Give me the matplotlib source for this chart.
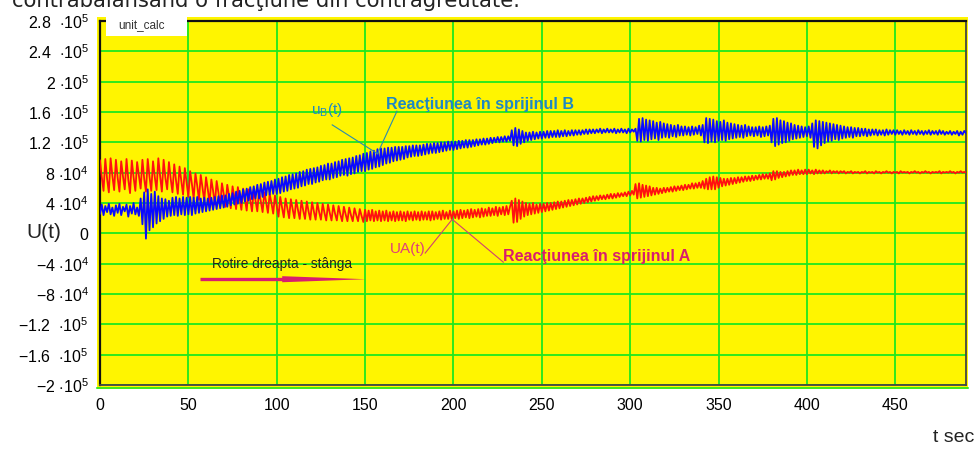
import matplotlib
matplotlib.use("Agg")
import matplotlib.pyplot as plt
from matplotlib.patches import Rectangle
import numpy as np

# ---------------------------------------------------------------- data
T_START, T_STEP = 0.0, 1.0          # sampling of both reaction traces [s]
UNIT = 1e4                          # values below are stored in units of 1e4

# Reaction in support A, UA(t)
ua = [
    9.6, 7.4, 5.6, 9.8, 7.2, 5.4, 9.9, 7.6, 5.7, 9.7,
    7.3, 5.5, 9.5, 7.5, 5.8, 9.8, 7.1, 5.3, 9.6, 7.4,
    5.6, 9.4, 7.6, 5.9, 9.7, 7.2, 5.5, 9.8, 7.5, 5.6,
    9.5, 7.4, 5.7, 9.9, 7.6, 5.5, 9.7, 7.3, 5.8, 9.4,
    7.2, 5.4, 9.1, 7.0, 5.2, 8.8, 6.9, 5.1, 8.6, 6.7,
    4.8, 8.2, 6.5, 4.6, 7.9, 6.3, 4.4, 7.7, 6.0, 4.3,
    7.4, 5.8, 4.0, 7.1, 5.6, 3.8, 6.9, 5.4, 3.6, 6.6,
    5.2, 3.5, 6.4, 5.0, 3.3, 6.2, 4.8, 3.2, 6.1, 4.6,
    3.1, 5.9, 4.5, 3.0, 5.8, 4.4, 2.9, 5.8, 4.3, 2.9,
    5.6, 4.2, 2.8, 5.4, 4.1, 2.7, 5.2, 4.0, 2.6, 5.0,
    3.6, 2.2, 4.8, 3.4, 2.1, 4.6, 3.3, 2.0, 4.5, 3.2,
    2.0, 4.4, 3.1, 1.9, 4.3, 3.0, 1.9, 4.2, 2.9, 1.8,
    4.1, 2.9, 1.8, 4.0, 2.8, 1.8, 3.9, 2.7, 1.7, 3.8,
    2.7, 1.7, 3.7, 2.6, 1.7, 3.6, 2.5, 1.6, 3.5, 2.5,
    1.6, 3.4, 2.4, 1.6, 3.3, 2.4, 1.6, 3.2, 2.3, 1.5,
    3.1, 1.6, 3.0, 1.7, 3.1, 1.6, 2.9, 1.7, 3.0, 1.6,
    2.9, 1.7, 3.0, 1.6, 2.8, 1.7, 2.9, 1.6, 2.8, 1.7,
    2.9, 1.7, 2.8, 1.6, 2.9, 1.8, 2.8, 1.7, 2.9, 1.8,
    2.8, 1.7, 2.9, 1.8, 2.8, 1.8, 2.9, 1.7, 2.9, 1.8,
    2.8, 1.9, 2.9, 1.8, 3.0, 1.9, 2.8, 1.9, 3.0, 1.9,
    2.9, 2.0, 3.0, 1.9, 3.1, 2.0, 3.0, 2.1, 3.1, 2.0,
    3.2, 2.1, 3.1, 2.2, 3.2, 2.1, 3.3, 2.2, 3.2, 2.3,
    3.4, 2.3, 3.3, 2.4, 3.5, 2.3, 3.4, 2.5, 3.5, 2.4,
    3.6, 2.5, 3.5, 4.3, 1.4, 4.6, 1.5, 4.4, 1.9, 4.2,
    2.2, 4.0, 2.4, 3.9, 2.5, 4.0, 2.6, 3.8, 2.7, 3.9,
    2.8, 3.9, 2.9, 4.0, 3.0, 4.0, 3.1, 4.1, 3.2, 4.2,
    3.3, 4.2, 3.4, 4.3, 3.5, 4.4, 3.6, 4.4, 3.7, 4.5,
    3.8, 4.6, 3.9, 4.6, 4.0, 4.7, 4.1, 4.8, 4.2, 4.9,
    4.3, 4.9, 4.4, 5.0, 4.5, 5.0, 4.5, 5.1, 4.6, 5.2,
    4.6, 5.2, 4.7, 5.3, 4.8, 5.3, 4.9, 5.4, 4.9, 5.5,
    5.0, 5.6, 5.1, 6.5, 4.6, 6.6, 4.7, 6.4, 4.8, 6.3,
    4.9, 6.2, 5.0, 6.0, 5.1, 6.0, 5.2, 5.9, 5.3, 6.0,
    5.4, 6.0, 5.5, 6.1, 5.5, 6.2, 5.6, 6.2, 5.7, 6.3,
    5.7, 6.4, 5.8, 6.4, 5.9, 6.6, 5.9, 6.6, 6.0, 6.7,
    6.0, 6.9, 5.9, 7.2, 5.8, 7.4, 5.8, 7.5, 5.8, 7.4,
    6.0, 7.3, 6.2, 7.2, 6.3, 7.2, 6.4, 7.3, 6.5, 7.3,
    6.6, 7.4, 6.7, 7.4, 6.8, 7.5, 6.9, 7.5, 6.9, 7.6,
    7.0, 7.6, 7.1, 7.7, 7.1, 7.8, 7.2, 7.8, 7.2, 7.9,
    7.0, 8.2, 7.1, 8.2, 7.3, 8.1, 7.4, 8.1, 7.5, 8.2,
    7.6, 8.3, 7.7, 8.3, 7.7, 8.4, 7.8, 8.3, 7.8, 8.4,
    7.8, 8.4, 7.9, 8.3, 7.8, 8.4, 7.9, 8.3, 7.9, 8.3,
    7.9, 8.2, 8.0, 8.3, 7.9, 8.2, 8.0, 8.2, 7.9, 8.2,
    8.0, 8.2, 7.9, 8.1, 8.0, 8.2, 7.9, 8.1, 8.0, 8.1,
    7.9, 8.1, 8.0, 8.2, 7.9, 8.1, 8.0, 8.1, 7.9, 8.2,
    8.0, 8.1, 7.9, 8.1, 8.0, 8.2, 8.0, 8.1, 7.9, 8.1,
    8.0, 8.1, 7.9, 8.2, 8.0, 8.1, 8.0, 8.1, 7.9, 8.1,
    8.0, 8.2, 8.0, 8.1, 7.9, 8.1, 8.0, 8.2, 8.0, 8.1,
    7.9, 8.1, 8.0, 8.1, 8.0, 8.2, 7.9, 8.1, 8.0, 8.1,
    8.0, 8.2, 8.0, 8.1, 7.9, 8.1, 8.0, 8.2, 8.0, 8.1,
    8.0,
]

# Reaction in support B, uB(t)
ub = [
    2.6, 3.8, 2.4, 3.6, 2.8, 3.9, 2.5, 3.4, 2.3, 3.7,
    2.7, 3.9, 2.4, 3.5, 2.9, 3.8, 2.2, 3.6, 2.6, 4.0,
    2.5, 3.4, 2.3, 4.6, 1.2, 5.4, -0.7, 5.8, 0.4, 5.2,
    0.8, 5.5, 1.3, 4.9, 1.6, 4.6, 1.9, 4.5, 2.2, 4.3,
    2.3, 4.7, 2.4, 4.8, 2.3, 4.6, 2.5, 4.8, 2.4, 4.7,
    2.5, 4.8, 2.4, 4.7, 2.6, 4.8, 2.7, 4.6, 2.8, 4.7,
    2.9, 4.6, 3.0, 4.7, 3.1, 4.8, 3.2, 4.9, 3.3, 5.0,
    3.4, 5.0, 3.5, 5.2, 3.7, 5.3, 3.8, 5.5, 3.9, 5.6,
    4.0, 5.8, 4.2, 5.9, 4.3, 6.1, 4.5, 6.2, 4.6, 6.4,
    4.6, 6.5, 4.8, 6.7, 5.0, 6.8, 5.1, 6.9, 5.2, 7.1,
    5.2, 7.2, 5.3, 7.4, 5.5, 7.5, 5.6, 7.7, 5.8, 7.8,
    5.9, 7.9, 6.0, 8.1, 6.2, 8.2, 6.3, 8.4, 6.5, 8.5,
    6.5, 8.6, 6.7, 8.7, 6.8, 8.9, 7.0, 9.0, 7.1, 9.2,
    7.1, 9.2, 7.3, 9.4, 7.4, 9.5, 7.6, 9.7, 7.7, 9.8,
    7.6, 9.9, 7.8, 10.0, 7.9, 10.2, 8.1, 10.3, 8.2, 10.5,
    8.2, 10.6, 8.4, 10.8, 8.5, 10.9, 8.7, 11.1, 8.8, 11.2,
    9.0, 11.2, 9.2, 11.3, 9.3, 11.3, 9.5, 11.4, 9.6, 11.4,
    9.7, 11.4, 9.8, 11.5, 10.0, 11.5, 10.1, 11.6, 10.2, 11.6,
    10.2, 11.6, 10.3, 11.7, 10.4, 11.8, 10.5, 11.8, 10.6, 11.9,
    10.6, 11.9, 10.7, 12.0, 10.8, 12.0, 10.9, 12.1, 11.0, 12.1,
    11.0, 12.1, 11.1, 12.2, 11.2, 12.2, 11.3, 12.3, 11.3, 12.3,
    11.4, 12.3, 11.5, 12.4, 11.6, 12.4, 11.7, 12.5, 11.7, 12.5,
    11.8, 12.6, 11.9, 12.6, 12.0, 12.7, 12.0, 12.7, 12.1, 12.8,
    12.1, 12.8, 12.2, 13.6, 11.6, 13.9, 11.5, 13.7, 11.8, 13.5,
    12.0, 13.3, 12.2, 13.3, 12.3, 13.4, 12.4, 13.3, 12.5, 13.4,
    12.5, 13.4, 12.6, 13.5, 12.6, 13.5, 12.7, 13.5, 12.7, 13.6,
    12.7, 13.5, 12.8, 13.6, 12.8, 13.5, 12.9, 13.6, 12.9, 13.6,
    13.0, 13.6, 13.0, 13.6, 13.1, 13.7, 13.1, 13.7, 13.2, 13.7,
    13.2, 13.7, 13.3, 13.8, 13.2, 13.7, 13.3, 13.8, 13.3, 13.7,
    13.3, 13.8, 13.2, 13.7, 13.3, 13.8, 13.3, 13.7, 13.2, 13.8,
    13.3, 13.7, 13.4, 13.8, 12.2, 15.1, 12.1, 15.2, 12.3, 15.0,
    12.2, 14.9, 12.4, 14.8, 12.5, 14.6, 12.3, 14.7, 12.6, 14.5,
    12.7, 14.4, 12.6, 14.3, 12.8, 14.2, 12.7, 14.3, 12.9, 14.1,
    12.9, 14.1, 13.0, 14.0, 12.9, 14.1, 13.0, 14.0, 13.1, 14.2,
    12.9, 14.3, 12.0, 15.2, 11.9, 15.1, 12.1, 15.0, 12.0, 14.8,
    12.2, 14.7, 12.3, 14.9, 12.2, 14.6, 12.4, 14.5, 12.5, 14.4,
    12.6, 14.3, 12.7, 14.2, 12.6, 14.3, 12.8, 14.1, 12.9, 14.0,
    12.8, 14.0, 12.9, 14.1, 12.7, 14.0, 12.8, 14.1, 12.9, 14.2,
    12.0, 15.1, 11.5, 15.2, 11.7, 14.9, 11.9, 14.8, 12.0, 14.6,
    12.2, 14.5, 12.4, 14.3, 12.5, 14.2, 12.6, 14.1, 12.7, 14.0,
    12.8, 14.1, 12.6, 14.5, 11.4, 14.9, 11.2, 14.8, 11.6, 14.7,
    11.9, 14.6, 12.1, 14.5, 12.2, 14.4, 12.4, 14.3, 12.3, 14.2,
    12.5, 14.1, 12.6, 14.0, 12.7, 14.0, 12.6, 13.9, 12.8, 13.9,
    12.8, 13.8, 12.9, 13.8, 12.8, 13.7, 12.9, 13.7, 13.0, 13.7,
    12.9, 13.6, 13.0, 13.6, 12.9, 13.7, 13.0, 13.6, 13.1, 13.6,
    13.0, 13.6, 13.1, 13.5, 13.0, 13.6, 13.1, 13.5, 13.0, 13.6,
    13.1, 13.5, 13.0, 13.6, 13.1, 13.5, 13.0, 13.5, 13.1, 13.6,
    13.0, 13.5, 13.1, 13.5, 13.0, 13.6, 13.1, 13.5, 13.0, 13.4,
    13.1, 13.5, 13.0, 13.4, 13.1, 13.5, 12.9, 13.4, 13.0, 13.5,
    13.2,
]

x_ticks = [0, 50, 100, 150, 200, 250, 300, 350, 400, 450]
x_tick_labels = ["0", "50", "100", "150", "200", "250", "300", "350", "400", "450"]
y_ticks = [-2e5, -1.6e5, -1.2e5, -8e4, -4e4, 0, 4e4, 8e4, 1.2e5, 1.6e5, 2e5, 2.4e5, 2.8e5]
y_tick_labels = [
    r"$-2\ {\cdot}10^{5}$", r"$-1.6\ \ {\cdot}10^{5}$", r"$-1.2\ \ {\cdot}10^{5}$",
    r"$-8\ {\cdot}10^{4}$", r"$-4\ {\cdot}10^{4}$", r"$0$",
    r"$4\ {\cdot}10^{4}$", r"$8\ {\cdot}10^{4}$", r"$1.2\ \ {\cdot}10^{5}$",
    r"$1.6\ \ {\cdot}10^{5}$", r"$2\ {\cdot}10^{5}$", r"$2.4\ \ {\cdot}10^{5}$",
    r"$2.8\ \ {\cdot}10^{5}$",
]
X_MAX, Y_MIN, Y_MAX = 490, -2e5, 2.8e5

# ---------------------------------------------------------------- style
plt.rcParams["font.family"] = ["Liberation Sans", "DejaVu Sans"]
plt.rcParams["mathtext.fontset"] = "custom"
plt.rcParams["mathtext.rm"] = "Liberation Sans"
plt.rcParams["mathtext.it"] = "Liberation Sans"
plt.rcParams["mathtext.bf"] = "Liberation Sans:bold"

YELLOW = "#fff500"
GRID = "#1ee81e"
RED = "#ff1010"
BLUE = "#0a0aff"
B_NOTE = "#1e88c4"
A_NOTE = "#d81e6e"

W, H = 979, 449
fig = plt.figure(figsize=(W / 100, H / 100), dpi=100)

def fx(px):
    return px / W

def fy(py):
    return 1 - py / H

# yellow plotting surface, slightly larger than the axes box
fig.patches.append(Rectangle((fx(97), fy(389)), fx(968) - fx(97), fy(17) - fy(389),
                             transform=fig.transFigure, facecolor=YELLOW,
                             edgecolor="none", zorder=-2))
fig.lines.append(plt.Line2D([fx(97), fx(968)], [fy(388), fy(388)],
                            transform=fig.transFigure, color=GRID, lw=1.2, zorder=-1))

ax = fig.add_axes([fx(100), fy(385), fx(966) - fx(100), fy(21) - fy(385)])
ax.set_facecolor(YELLOW)
ax.set_xlim(0, X_MAX)
ax.set_ylim(Y_MIN, Y_MAX)

ax.set_xticks(x_ticks, x_tick_labels, fontsize=11.5)
ax.set_yticks(y_ticks, y_tick_labels, fontsize=11.5)
ax.tick_params(length=0)
ax.tick_params(axis="x", pad=9)
ax.tick_params(axis="y", pad=8)
ax.grid(True, color=GRID, lw=1.3)
ax.set_axisbelow(True)
for side in ("left", "top"):
    ax.spines[side].set_color("#111111")
    ax.spines[side].set_linewidth(1.6)
for side in ("right", "bottom"):
    ax.spines[side].set_color("#444444")
    ax.spines[side].set_linewidth(1.3)

t = T_START + T_STEP * np.arange(len(ua))
ax.plot(t, np.array(ua) * UNIT, color=RED, lw=1.3, zorder=3)
ax.plot(t, np.array(ub) * UNIT, color=BLUE, lw=1.3, zorder=4)

# ---------------------------------------------------------------- notes
ax.text(128.5, 163000, r"$\mathrm{u_{B}(t)}$", color=B_NOTE, fontsize=11,
        ha="center", va="center", zorder=6)
ax.text(162, 170000, "Reacţiunea în sprijinul B", color=B_NOTE, fontsize=11.5,
        fontweight="bold", ha="left", va="center", zorder=6)
ax.plot([131.4, 157], [143000, 105000], color="#2a8ab0", lw=0.8, zorder=6)
ax.plot([168, 157], [161000, 105000], color="#2a8ab0", lw=0.8, zorder=6)

ax.text(174.4, -21000, "UA(t)", color="#e0407a", fontsize=11,
        ha="center", va="center", zorder=6)
ax.text(228.2, -31000, "Reacţiunea în sprijinul A", color=A_NOTE, fontsize=11.5,
        fontweight="bold", ha="left", va="center", zorder=6)
ax.plot([184, 199.3], [-26000, 18500], color="#d04070", lw=0.8, zorder=6)
ax.plot([228.2, 199.3], [-38000, 18500], color="#d04070", lw=0.8, zorder=6)

ax.text(63.4, -40000, "Rotire dreapta - stânga", color="#222222", fontsize=9.8,
        ha="left", va="center", zorder=6)
ax.plot([56.6, 103.5], [-60500, -60500], color=A_NOTE, lw=2.4,
        solid_capstyle="butt", zorder=6)
ax.fill([103.1, 150.4, 103.1], [-56500, -60500, -64500], color=A_NOTE,
        lw=0, zorder=6)

# unit box in the top-left corner
fig.patches.append(Rectangle((fx(106), fy(36)), fx(187) - fx(106), fy(17) - fy(36),
                             transform=fig.transFigure, facecolor="white",
                             edgecolor="none", zorder=10))
fig.text(fx(142), fy(25), "unit_calc", fontsize=8.5, color="#333333",
         ha="center", va="center", zorder=11)

fig.text(fx(44), fy(233), "U(t)", fontsize=15, color="#222222",
         ha="center", va="center")
fig.text(fx(954), fy(437), "t sec", fontsize=14, color="#222222",
         ha="center", va="center")

# caption line running off the top edge
fig.text(fx(12), fy(7), "contrabalansând o fracţiune din contragreutate.",
         fontsize=15.2, family="DejaVu Sans", color="#222222",
         ha="left", va="baseline")

fig.savefig("out.png", dpi=100)
